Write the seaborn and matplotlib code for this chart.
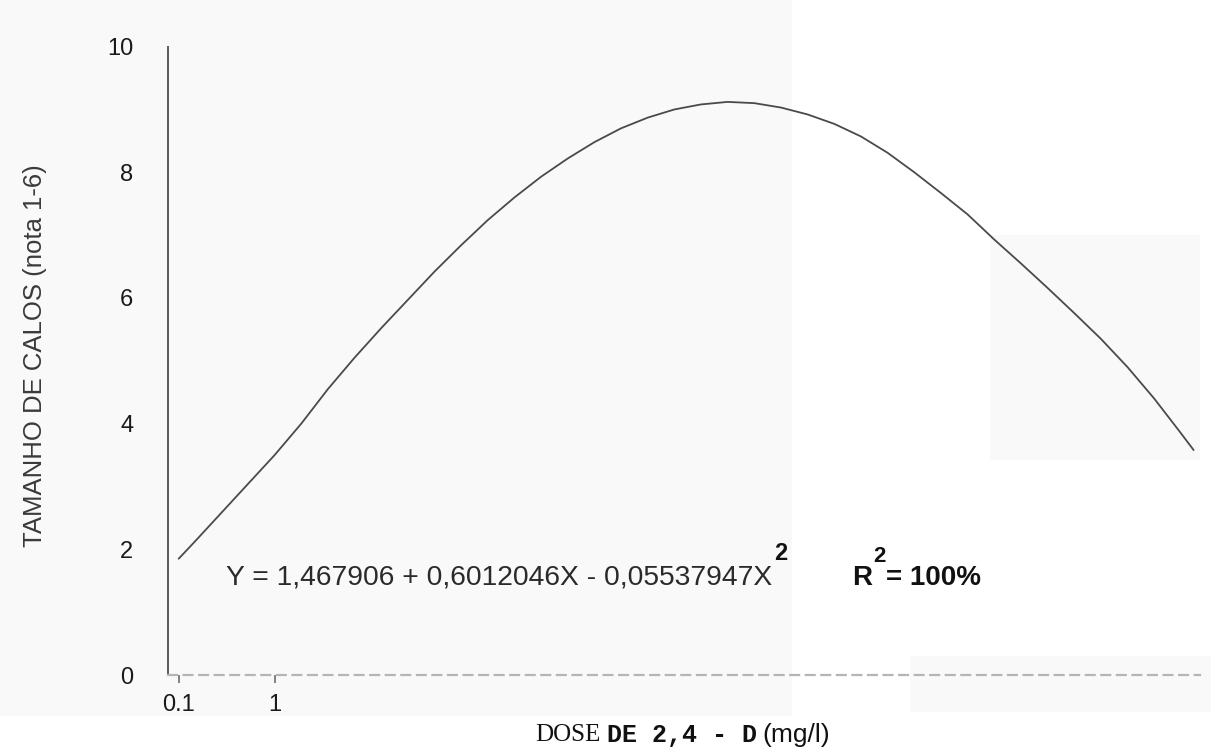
import matplotlib
matplotlib.use("Agg")
import matplotlib.pyplot as plt
from matplotlib.patches import Rectangle
import seaborn as sns
import pandas as pd

# ---------------- data ----------------
dose = [0.1, 0.25, 0.5, 0.75, 1.0, 1.25, 1.5, 1.75, 2.0, 2.25, 2.5, 2.75,
        3.0, 3.25, 3.5, 3.75, 4.0, 4.25, 4.5, 4.75, 5.0, 5.25, 5.5, 5.75,
        6.0, 6.25, 6.5, 6.75, 7.0, 7.25, 7.5, 7.75, 8.0, 8.25, 8.5, 8.75,
        9.0, 9.25, 9.5, 9.62]
tamanho = [1.85, 2.12, 2.58, 3.04, 3.50, 4.00, 4.55, 5.05, 5.52, 5.97, 6.42, 6.84,
           7.24, 7.60, 7.93, 8.22, 8.48, 8.70, 8.87, 9.00, 9.08, 9.12, 9.10, 9.03,
           8.92, 8.77, 8.57, 8.31, 8.00, 7.67, 7.33, 6.93, 6.55, 6.16, 5.76, 5.35,
           4.90, 4.40, 3.85, 3.58]

x_ticks = [0.1, 1]
x_tick_labels = ["0.1", "1"]
y_ticks = [0, 2, 4, 6, 8, 10]
y_tick_labels = ["0", "2", "4", "6", "8", "10"]

y_label = "TAMANHO DE CALOS (nota 1-6)"
equation = "Y = 1,467906 + 0,6012046X - 0,05537947X"
eq_sup = "2"
r2_letter = "R"
r2_sup = "2"
r2_value = "= 100%"
x_label_parts = ["DOSE", "DE 2,4 - D", "(mg/l)"]

df = pd.DataFrame({"dose": dose, "tamanho": tamanho})

# ---------------- figure ----------------
sns.set_theme(style="white")
plt.rcParams["font.family"] = ["Liberation Sans", "DejaVu Sans"]

W, H = 1211, 755
fig = plt.figure(figsize=(W / 100, H / 100), dpi=100)
fig.patch.set_facecolor("white")


def scan_patch(x0, y0, x1, y1, color="#f9f9f9"):
    fig.add_artist(Rectangle((x0 / W, 1 - y1 / H), (x1 - x0) / W, (y1 - y0) / H,
                             transform=fig.transFigure, facecolor=color,
                             edgecolor="none", zorder=-5))


scan_patch(0, 0, 792, 716)
scan_patch(990, 235, 1200, 460)
scan_patch(910, 656, 1211, 712)

ax = fig.add_axes([168 / W, (H - 675) / H, (1200 - 168) / W, (675 - 46.6) / H])
ax.patch.set_alpha(0)

sns.lineplot(data=df, x="dose", y="tamanho", ax=ax, color="#4a4a4a",
             linewidth=1.3, estimator=None, sort=False)

ax.set_xlim(0, 9.68)
ax.set_ylim(0, 10)
ax.set_xticks(x_ticks, x_tick_labels)
ax.set_yticks(y_ticks, y_tick_labels)

for s in ["top", "right"]:
    ax.spines[s].set_visible(False)
ax.spines["left"].set_color("#5a5a5a")
ax.spines["left"].set_linewidth(1.4)
ax.spines["bottom"].set_color("#b5b5b5")
ax.spines["bottom"].set_linewidth(1.6)
ax.spines["bottom"].set_linestyle((0, (4, 3)))

ax.tick_params(axis="x", bottom=True, length=6, width=1.3, color="#777777",
               pad=8, labelsize=17, labelcolor="#1a1a1a")
ax.tick_params(axis="y", left=False, length=0, pad=25, labelsize=17,
               labelcolor="#1a1a1a")

ax.set_xlabel("")
ax.set_ylabel(y_label, fontsize=18.5, color="#3a3a3a")
ax.yaxis.set_label_coords(-0.117, 0.508)

fig.canvas.draw()
renderer = fig.canvas.get_renderer()


def put(x, y, s, **kw):
    t = fig.text(x / W, 1 - y / H, s, va="center", ha="left", **kw)
    bb = t.get_window_extent(renderer=renderer)
    return bb.x1


# equation
xe = put(226, 577, equation, fontsize=20.3, color="#2a2a2a")
put(xe + 2, 554, eq_sup, fontsize=17, fontweight="bold", color="#111111")

# R^2
xr = put(852, 578, r2_letter, fontsize=20, fontweight="bold", color="#111111")
xr2 = put(xr + 1, 557, r2_sup, fontsize=16, fontweight="bold", color="#111111")
put(xr2 + 1, 578, r2_value, fontsize=20, fontweight="bold", color="#111111")

# x axis title with mixed fonts
x1 = put(535, 735, x_label_parts[0], fontsize=18, family=["Liberation Serif"], color="#111111")
x2 = put(x1 + 7, 735, x_label_parts[1], fontsize=18, family=["Liberation Mono"],
         fontweight="bold", color="#111111")
put(x2 + 5, 735, x_label_parts[2], fontsize=19, color="#111111")

fig.savefig("out.png", dpi=100)
